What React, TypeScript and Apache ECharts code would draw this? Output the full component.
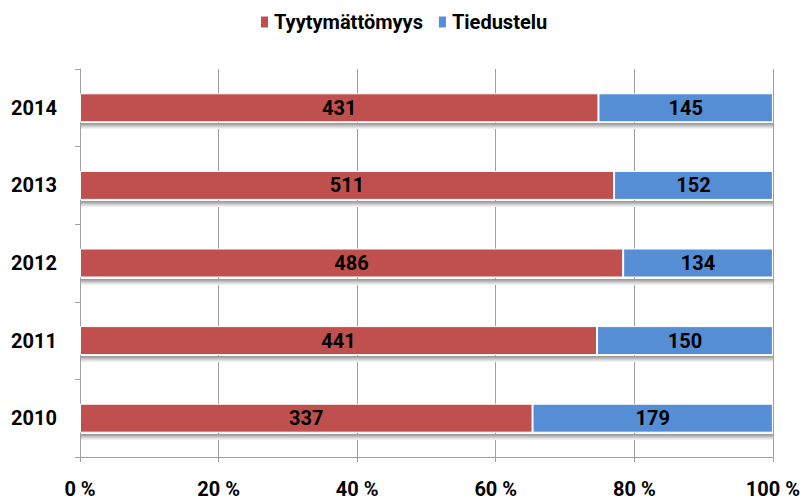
import React, { useEffect, useRef } from "react";
import * as echarts from "echarts";

const years = ["2010", "2011", "2012", "2013", "2014"];
const tyytymattomyys = [337, 441, 486, 511, 431];
const tiedustelu = [179, 150, 134, 152, 145];
const xTicks = [0, 20, 40, 60, 80, 100];

const FONT = "Roboto, 'Liberation Sans', sans-serif";
const BAR_W = 29;
const SHADOW_COLORS = ["#9c9c9c", "#aaaaaa", "#bdbdbd", "#d0d0d0", "#e2e2e2", "#f0f0f0"];

export default function App() {
  const ref = useRef<HTMLDivElement>(null);
  useEffect(() => {
    if (!ref.current) return;
    const chart = echarts.init(ref.current, undefined, { renderer: "svg" });
    const totals = years.map((_, i) => tyytymattomyys[i] + tiedustelu[i]);
    const pct = (arr: number[]) => arr.map((v, i) => ({ value: (v / totals[i]) * 100, raw: v }));
    const labelCfg = {
      show: true,
      position: "inside",
      color: "#000",
      fontWeight: "bold",
      fontSize: 20,
      fontFamily: FONT,
      formatter: (p: any) => String(p.data.raw),
    };
    const itemBase = {
      borderColor: "#ffffff",
      borderWidth: 1,
    };
    chart.setOption({
      animation: false,
      backgroundColor: "#ffffff",
      legend: {
        top: 7,
        left: 254,
        itemWidth: 9,
        itemHeight: 13,
        itemGap: 14,
        icon: "rect",
        textStyle: { fontSize: 20, fontWeight: "bold", fontFamily: FONT, color: "#000" },
        data: ["Tyytymättömyys", "Tiedustelu"],
      },
      grid: { left: 80, right: 27, top: 69, bottom: 44, containLabel: false },
      xAxis: {
        type: "value",
        min: xTicks[0],
        max: xTicks[xTicks.length - 1],
        interval: 20,
        axisLabel: {
          formatter: "{value} %",
          fontSize: 20,
          fontWeight: "bold",
          fontFamily: FONT,
          color: "#000",
          margin: 22,
        },
        axisLine: { show: true, lineStyle: { color: "#a0a0a0", width: 1 } },
        axisTick: { show: true, length: 5, lineStyle: { color: "#a0a0a0" } },
        splitLine: { show: true, lineStyle: { color: "#a0a0a0", width: 1 } },
      },
      yAxis: {
        type: "category",
        data: years,
        axisLabel: {
          fontSize: 20,
          fontWeight: "bold",
          fontFamily: FONT,
          color: "#000",
          margin: 23,
        },
        axisLine: { show: true, lineStyle: { color: "#a0a0a0", width: 1 } },
        axisTick: { show: true, length: 5, lineStyle: { color: "#a0a0a0" } },
      },
      series: [
        {
          name: "Tyytymättömyys",
          type: "bar",
          stack: "total",
          barWidth: BAR_W,
          z: 3,
          data: pct(tyytymattomyys),
          itemStyle: { color: "#C0504D", ...itemBase },
          label: labelCfg,
        },
        {
          name: "Tiedustelu",
          type: "bar",
          stack: "total",
          barWidth: BAR_W,
          z: 3,
          data: pct(tiedustelu),
          itemStyle: { color: "#558ED5", ...itemBase },
          label: labelCfg,
        },
      ],
    });

    try {
      const elements: any[] = [];
      years.forEach((y, i) => {
        const p0 = chart.convertToPixel({ gridIndex: 0 }, [0, i]) as number[];
        const p1 = chart.convertToPixel({ gridIndex: 0 }, [100, i]) as number[];
        if (!p0 || !p1) return;
        const y0 = Math.round(p0[1] + BAR_W / 2) + 1;
        SHADOW_COLORS.forEach((c, k) => {
          elements.push({
            type: "rect",
            silent: true,
            z: 1,
            shape: { x: p0[0] + 1, y: y0 + k, width: p1[0] - p0[0] - 1, height: 1 },
            style: { fill: c },
          });
        });
      });
      chart.setOption({ graphic: { elements } });
    } catch (e) {
      // ignore
    }
    return () => chart.dispose();
  }, []);
  return <div ref={ref} style={{ width: 803, height: 501, position: "absolute", left: 0, top: 0 }} />;
}
